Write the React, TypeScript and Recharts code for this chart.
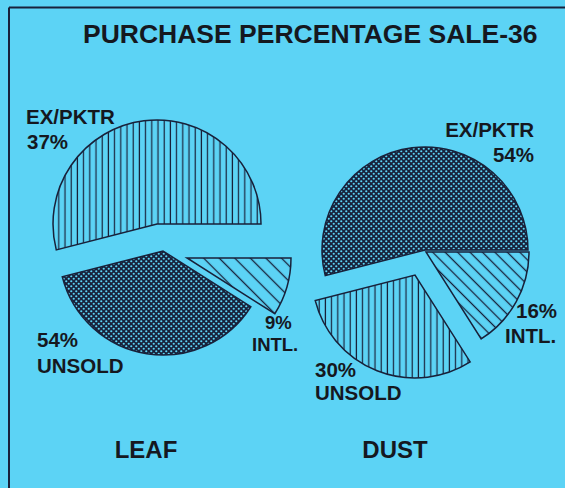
import React from "react";
import { PieChart, Pie, Cell } from "recharts";

// ---- data ----
const sliceNames = ["EX/PKTR", "UNSOLD", "INTL."];
// sector sizes as drawn in the picture (percent of the full circle)
const leafShares = [54, 37, 9];
const dustShares = [54, 30, 16];
// percentages as printed next to the slices
const leafPercentLabels = ["37%", "54%", "9%"];
const dustPercentLabels = ["54%", "30%", "16%"];
const chartTitle = "PURCHASE PERCENTAGE SALE-36";
const pieTitles = ["LEAF", "DUST"];

// ---- layout / style ----
const W = 565;
const H = 488;
const BG = "#5cd3f5";
const INK = "#18213a";
const TXT = "#15181f";
const FONT = "'Liberation Sans', Arial, sans-serif";

const leafRadius = 104;
const dustRadius = 103;
const leafCenters = [
  [157, 224],
  [163, 251],
  [187, 258],
];
const dustCenters = [
  [425, 250],
  [415, 275],
  [426, 252],
];
const leafFills = ["url(#vlines)", "url(#dots)", "url(#diagLeaf)"];
const dustFills = ["url(#dots)", "url(#vlines)", "url(#diagDust)"];

type LabelPos = {
  x1: number; y1: number; x2: number; y2: number;
  anchor: "start" | "end"; percentFirst: boolean; size: number;
};
const leafLabelPos: LabelPos[] = [
  { x1: 26, y1: 124, x2: 27, y2: 149, anchor: "start", percentFirst: false, size: 20.5 },
  { x1: 37, y1: 347, x2: 37, y2: 373, anchor: "start", percentFirst: true, size: 20.5 },
  { x1: 265, y1: 329, x2: 252, y2: 351, anchor: "start", percentFirst: true, size: 18.5 },
];
const dustLabelPos: LabelPos[] = [
  { x1: 534, y1: 137, x2: 534, y2: 162, anchor: "end", percentFirst: false, size: 20.5 },
  { x1: 315, y1: 377, x2: 315, y2: 400, anchor: "start", percentFirst: true, size: 20.5 },
  { x1: 516, y1: 318, x2: 505, y2: 343, anchor: "start", percentFirst: true, size: 20.5 },
];

const buildData = (shares: number[]) =>
  sliceNames.map((name, i) => ({ name, value: shares[i] }));

const leafData = buildData(leafShares);
const dustData = buildData(dustShares);

function explodedPies(
  key: string,
  data: { name: string; value: number }[],
  centers: number[][],
  fills: string[],
  radius: number
) {
  return centers.map((c, k) => (
    <Pie
      key={`${key}-${k}`}
      data={data}
      dataKey="value"
      nameKey="name"
      cx={c[0]}
      cy={c[1]}
      innerRadius={0}
      outerRadius={radius}
      startAngle={0}
      endAngle={360}
      isAnimationActive={false}
      label={false}
      labelLine={false}
    >
      {data.map((_, i) => (
        <Cell
          key={i}
          fill={i === k ? fills[i] : "none"}
          stroke={i === k ? INK : "none"}
          strokeWidth={1.5}
        />
      ))}
    </Pie>
  ));
}

function labels(pos: LabelPos[], percents: string[]) {
  return pos.map((p, i) => {
    const first = p.percentFirst ? percents[i] : sliceNames[i];
    const second = p.percentFirst ? sliceNames[i] : percents[i];
    return (
      <g key={i}>
        <text x={p.x1} y={p.y1} textAnchor={p.anchor} fontFamily={FONT} fontWeight="bold" fontSize={p.size} fill={TXT}>
          {first}
        </text>
        <text x={p.x2} y={p.y2} textAnchor={p.anchor} fontFamily={FONT} fontWeight="bold" fontSize={p.size} fill={TXT}>
          {second}
        </text>
      </g>
    );
  });
}

export default function App() {
  return (
    <div style={{ position: "absolute", left: 0, top: 0, width: W, height: H, background: BG, overflow: "hidden" }}>
      <PieChart width={W} height={H} margin={{ top: 0, right: 0, bottom: 0, left: 0 }}>
        <defs>
          <pattern id="vlines" patternUnits="userSpaceOnUse" width={6.2} height={6}>
            <rect width={6.2} height={6} fill={BG} />
            <line x1={3} y1={0} x2={3} y2={6} stroke={INK} strokeWidth={1.2} />
          </pattern>
          <pattern id="dots" patternUnits="userSpaceOnUse" width={5} height={5}>
            <rect width={5} height={5} fill={INK} />
            <circle cx={1.25} cy={1.25} r={1.1} fill={BG} />
            <circle cx={3.75} cy={3.75} r={1.1} fill={BG} />
          </pattern>
          <pattern id="diagLeaf" patternUnits="userSpaceOnUse" width={11} height={11} patternTransform="rotate(-45)">
            <rect width={11} height={11} fill={BG} />
            <line x1={5.5} y1={0} x2={5.5} y2={11} stroke={INK} strokeWidth={1.3} />
          </pattern>
          <pattern id="diagDust" patternUnits="userSpaceOnUse" width={8.8} height={8.8} patternTransform="rotate(-45)">
            <rect width={8.8} height={8.8} fill={BG} />
            <line x1={4.4} y1={0} x2={4.4} y2={8.8} stroke={INK} strokeWidth={1.3} />
          </pattern>
        </defs>
        <line x1={9} y1={7.5} x2={W} y2={7.5} stroke={INK} strokeWidth={2} />
        <line x1={9} y1={7.5} x2={9} y2={H} stroke={INK} strokeWidth={2} />
        <text x={83} y={43} fontFamily={FONT} fontWeight="bold" fontSize={26.5} fill={TXT}>
          {chartTitle}
        </text>
        {explodedPies("leaf", leafData, leafCenters, leafFills, leafRadius)}
        {explodedPies("dust", dustData, dustCenters, dustFills, dustRadius)}
        {labels(leafLabelPos, leafPercentLabels)}
        {labels(dustLabelPos, dustPercentLabels)}
        <text x={146} y={458} textAnchor="middle" fontFamily={FONT} fontWeight="bold" fontSize={24} fill={TXT}>
          {pieTitles[0]}
        </text>
        <text x={395} y={458} textAnchor="middle" fontFamily={FONT} fontWeight="bold" fontSize={24} fill={TXT}>
          {pieTitles[1]}
        </text>
      </PieChart>
    </div>
  );
}
